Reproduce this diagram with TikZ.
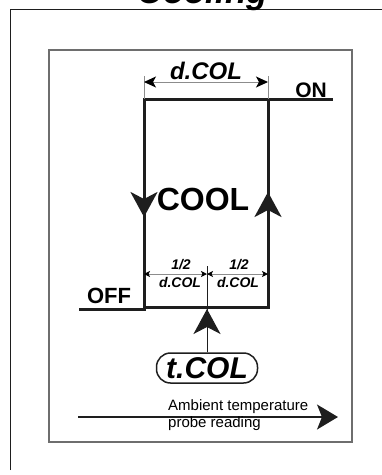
\documentclass[tikz,border=0pt]{standalone}
\usepackage{fontspec}
\setmainfont{Liberation Sans}
\usetikzlibrary{arrows.meta}

\begin{document}
\begin{tikzpicture}[x=1pt,y=-1pt,
    hyst/.style={line width=3pt, draw=inkDark},
    frame/.style={line width=1pt, draw=inkDark},
    panel/.style={line width=1.3pt, draw=panelGray},
    dimline/.style={line width=1pt, draw=dimGray},
    lbl/.style={inner sep=0pt, anchor=base},
    bigtip/.tip={Stealth[length=25pt,width=27pt,inset=7pt]},
    dimtip/.tip={Stealth[length=12pt,width=11pt,inset=3pt,color=black]},
    halftip/.tip={Stealth[length=6pt,width=6pt,inset=1.5pt,color=black]}]
     % Define colors
        \definecolor{inkDark}{RGB}{30, 30, 30}    % main lines
        \definecolor{panelGray}{RGB}{110, 110, 110} % inner panel
        \definecolor{dimGray}{RGB}{140, 140, 140} % dimension lines

        % Page size
        \useasboundingbox (0,0) rectangle (382,475);
        \clip (0,0) rectangle (382,475);

        % Draw the frames
        \draw[frame] (10,470) -- (10,9) -- (382,9);
        \draw[panel] (49,50) rectangle (352,442);

        % Title
        \node[lbl, font=\fontsize{35}{35}\selectfont\bfseries\itshape] (title) at (203,3) {Cooling};

        % Corners of the cooling cycle
        \coordinate (offEnd) at (79,309);
        \coordinate (lowL) at (144,309);
        \coordinate (topL) at (144,99);
        \coordinate (topR) at (268,99);
        \coordinate (onEnd) at (333,99);
        \coordinate (botL) at (144,307);
        \coordinate (botR) at (268,307);

        % Draw the cycle
        \draw[hyst] (offEnd) -- (lowL) -- (topL) -- (topR) -- (onEnd);
        \draw[hyst] (botL) -- (botR) -- (topR);

        % Direction arrows on the cycle
        \coordinate (downA) at (144,190);
        \coordinate (downB) at (144,217);
        \coordinate (upA) at (268,220);
        \coordinate (upB) at (268,192);
        \draw[hyst, -{bigtip}] (downA) -- (downB);
        \draw[hyst, -{bigtip}] (upA) -- (upB);

        % Differential d.COL
        \coordinate (extL) at (144,76);
        \coordinate (extR) at (268,76);
        \coordinate (dimL) at (144,82);
        \coordinate (dimR) at (268,82);
        \draw[dimline] (extL) -- (topL);
        \draw[dimline] (extR) -- (topR);
        \draw[dimline, {dimtip}-{dimtip}] (dimL) -- (dimR);

        % Half differentials
        \coordinate (halfL) at (144,274);
        \coordinate (halfM) at (207,274);
        \coordinate (halfR) at (268,274);
        \coordinate (midTop) at (207,266);
        \draw[dimline, {halftip}-{halftip}] (halfL) -- (halfM);
        \draw[dimline, {halftip}-{halftip}] (halfM) -- (halfR);

        % Set point t.COL
        \node[draw=inkDark, line width=1.5pt, rounded corners=14pt, minimum width=101pt,
              minimum height=30pt, inner sep=0pt,
              font=\fontsize{30}{30}\selectfont\bfseries\itshape] (tcol) at (207,368) {t.COL};
        \coordinate (tipMid) at (207,309);
        \draw[line width=1pt, draw=inkDark] (tcol.north) -- (midTop);
        \draw[line width=1pt, draw=inkDark, -{bigtip}] (tcol.north) -- (tipMid);

        % Temperature axis
        \coordinate (axisL) at (78,417);
        \coordinate (axisR) at (338,417);
        \draw[line width=1.3pt, draw=inkDark, -{Stealth[length=21pt,width=25pt,inset=5pt]}] (axisL) -- (axisR);

        % Add text labels
        \node[lbl, font=\fontsize{24}{24}\selectfont\bfseries\itshape] (dcolTop) at (206,79) {d.COL};
        \node[lbl, font=\fontsize{21}{21}\selectfont\bfseries] (on) at (311,97) {ON};
        \node[lbl, font=\fontsize{32}{32}\selectfont\bfseries] (cool) at (203,210) {COOL};
        \node[lbl, font=\fontsize{22}{22}\selectfont\bfseries] (off) at (109,303) {OFF};
        \node[lbl, font=\fontsize{14}{14}\selectfont\bfseries\itshape] (halfOneL) at (181,269) {1/2};
        \node[lbl, font=\fontsize{14}{14}\selectfont\bfseries\itshape] (halfTwoL) at (180,287) {d.COL};
        \node[lbl, font=\fontsize{14}{14}\selectfont\bfseries\itshape] (halfOneR) at (239,269) {1/2};
        \node[lbl, font=\fontsize{14}{14}\selectfont\bfseries\itshape] (halfTwoR) at (238,287) {d.COL};
        \node[lbl, anchor=base west, font=\fontsize{15}{15}\selectfont] (ambient) at (168,410) {Ambient temperature};
        \node[lbl, anchor=base west, font=\fontsize{15}{15}\selectfont] (probe) at (168,427) {probe reading};
    \end{tikzpicture}
\end{document}
